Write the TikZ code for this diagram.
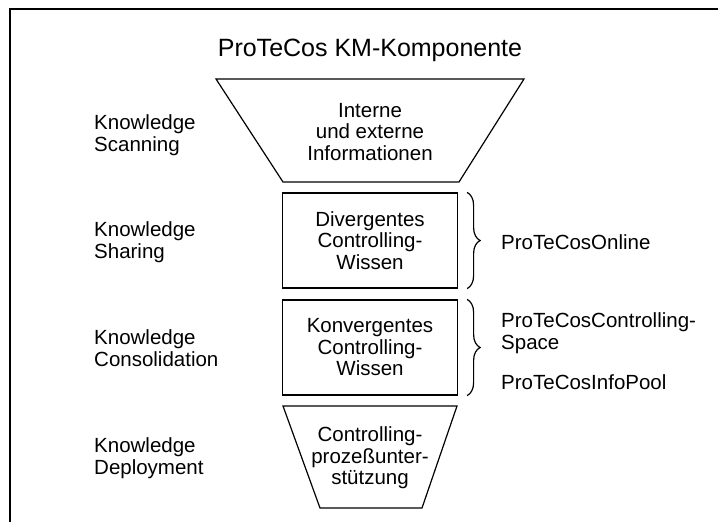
\documentclass[tikz,border=0pt]{standalone}
\usepackage{fontspec}
\setmainfont{Liberation Sans}
\usetikzlibrary{decorations.pathreplacing}
\begin{document}
\begin{tikzpicture}[x=1pt,y=-1pt,
  line/.style={line width=1.2pt, line join=miter},
  txt/.style={font=\fontsize{20.5}{21.5}\selectfont, align=center, inner sep=0pt},
  ltxt/.style={font=\fontsize{20.5}{21.5}\selectfont, align=left, anchor=west, inner sep=0pt},
  boxnode/.style={draw, line width=1.2pt, minimum width=175pt, minimum height=95pt, inner sep=0pt, font=\fontsize{20.5}{21.5}\selectfont, align=center},
  brc/.style={decorate, decoration={brace, amplitude=13pt}, line width=1.2pt}]
\useasboundingbox (0,0) rectangle (718,522);
% frame
\coordinate (fTL) at (10,9);
\coordinate (fTR) at (718,9);
\coordinate (fBL) at (10,522);
\draw[line] (fTR) -- (fTL) -- (fBL);
% title
\node[font=\fontsize{25}{29}\selectfont, inner sep=0pt] (title) at (370,50) {ProTeCos KM-Komponente};
% top funnel
\coordinate (t1a) at (216,79);
\coordinate (t1b) at (524,79);
\coordinate (t1c) at (459,182);
\coordinate (t1d) at (283,182);
\draw[line] (t1a) -- (t1b) -- (t1c) -- (t1d) -- cycle;
\node[txt] (t1txt) at (370,132) {Interne\\und externe\\Informationen};
% boxes
\node[boxnode] (box1) at (370,240.5) {Divergentes\\Controlling-\\Wissen};
\node[boxnode] (box2) at (370,347.5) {Konvergentes\\Controlling-\\Wissen};
% bottom funnel
\coordinate (t2a) at (283,406);
\coordinate (t2b) at (457,406);
\coordinate (t2c) at (422,508);
\coordinate (t2d) at (320,508);
\draw[line] (t2a) -- (t2b) -- (t2c) -- (t2d) -- cycle;
\node[txt] (t2txt) at (370,458) {Controlling-\\prozeßunter-\\stützung};
% braces
\draw[brc] ([xshift=9pt]box1.north east) -- ([xshift=9pt]box1.south east);
\draw[brc] ([xshift=9pt]box2.north east) -- ([xshift=9pt]box2.south east);
% right labels
\node[ltxt] (online) at (501,242) {ProTeCosOnline};
\node[ltxt] (space) at (501,333) {ProTeCosControlling-\\Space};
\node[ltxt] (pool) at (501,382) {ProTeCosInfoPool};
% left labels
\node[ltxt] (scan) at (94,135) {Knowledge\\Scanning};
\node[ltxt] (share) at (94,242) {Knowledge\\Sharing};
\node[ltxt] (cons) at (94,348) {Knowledge\\Consolidation};
\node[ltxt] (depl) at (94,458) {Knowledge\\Deployment};
\end{tikzpicture}
\end{document}
